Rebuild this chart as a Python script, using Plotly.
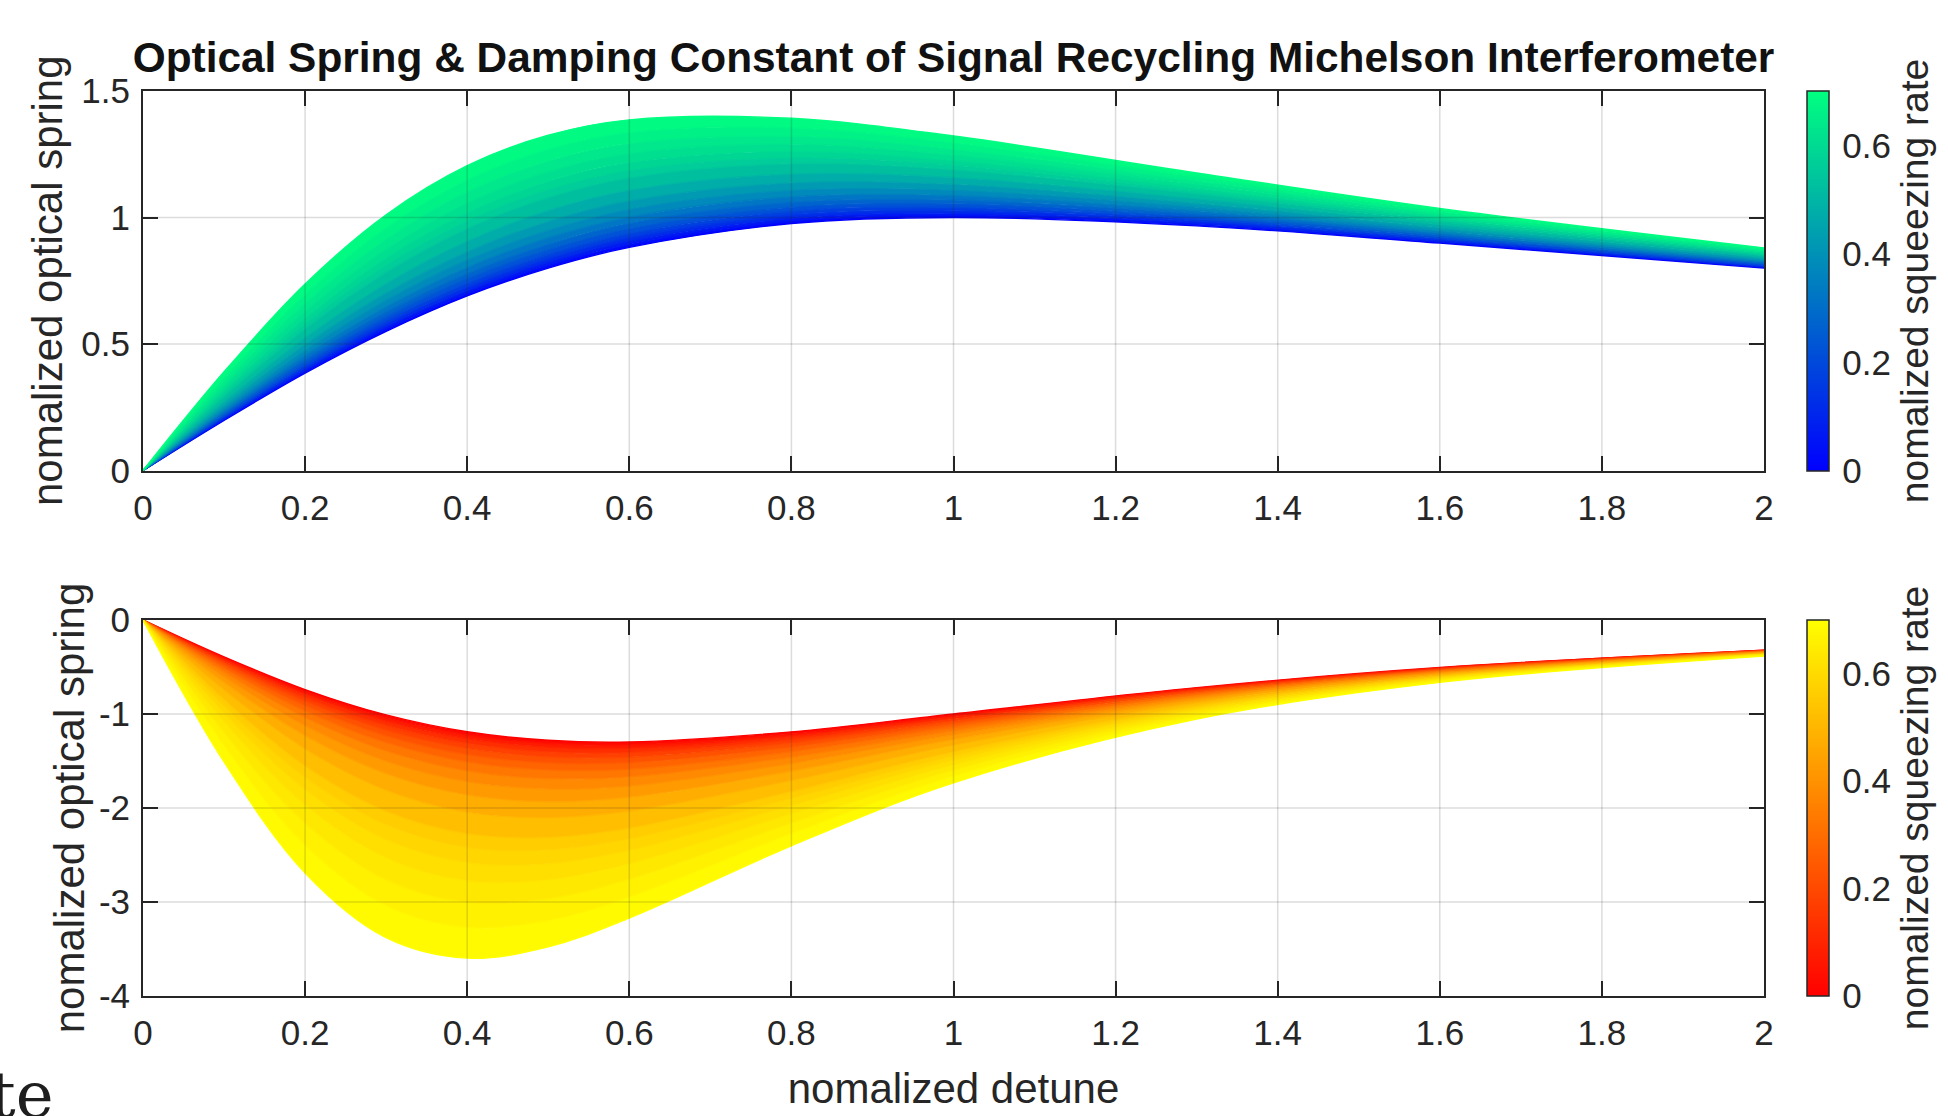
import plotly.graph_objects as go

# ---------------- data ----------------
x_detune = [0.0, 0.1, 0.2, 0.3, 0.4, 0.5, 0.6, 0.8, 1.0, 1.3, 1.6, 2.0]
squeeze_rate = [0.0, 0.05, 0.1, 0.15, 0.2, 0.25, 0.3, 0.35, 0.4, 0.45, 0.5, 0.55,
                0.575, 0.6, 0.625, 0.65, 0.675, 0.7]

# optical spring, one row per squeezing rate (same order as squeeze_rate)
spring = [
    [0, 0.198, 0.385, 0.550, 0.690, 0.800, 0.882, 0.976, 1.000, 0.967, 0.899, 0.800],
    [0, 0.201, 0.391, 0.559, 0.700, 0.811, 0.893, 0.986, 1.008, 0.972, 0.903, 0.803],
    [0, 0.205, 0.398, 0.569, 0.711, 0.823, 0.906, 0.997, 1.017, 0.979, 0.907, 0.805],
    [0, 0.210, 0.407, 0.581, 0.725, 0.838, 0.921, 1.010, 1.029, 0.987, 0.913, 0.808],
    [0, 0.215, 0.416, 0.594, 0.740, 0.854, 0.937, 1.025, 1.040, 0.995, 0.918, 0.812],
    [0, 0.221, 0.428, 0.609, 0.758, 0.873, 0.956, 1.041, 1.054, 1.004, 0.925, 0.816],
    [0, 0.228, 0.441, 0.627, 0.778, 0.894, 0.977, 1.060, 1.069, 1.015, 0.932, 0.820],
    [0, 0.236, 0.457, 0.648, 0.803, 0.920, 1.002, 1.082, 1.087, 1.027, 0.940, 0.825],
    [0, 0.246, 0.475, 0.673, 0.832, 0.950, 1.032, 1.108, 1.108, 1.041, 0.949, 0.830],
    [0, 0.258, 0.498, 0.702, 0.865, 0.985, 1.066, 1.137, 1.131, 1.056, 0.959, 0.836],
    [0, 0.273, 0.525, 0.739, 0.907, 1.028, 1.108, 1.172, 1.158, 1.074, 0.971, 0.843],
    [0, 0.292, 0.560, 0.784, 0.957, 1.079, 1.157, 1.213, 1.189, 1.094, 0.984, 0.851],
    [0, 0.303, 0.580, 0.811, 0.987, 1.110, 1.186, 1.236, 1.207, 1.105, 0.991, 0.855],
    [0, 0.316, 0.603, 0.841, 1.020, 1.143, 1.217, 1.262, 1.226, 1.117, 0.999, 0.859],
    [0, 0.331, 0.630, 0.875, 1.058, 1.181, 1.253, 1.290, 1.247, 1.131, 1.007, 0.864],
    [0, 0.348, 0.661, 0.915, 1.101, 1.223, 1.292, 1.321, 1.270, 1.145, 1.016, 0.869],
    [0, 0.367, 0.696, 0.959, 1.149, 1.270, 1.336, 1.355, 1.295, 1.160, 1.026, 0.874],
    [0, 0.390, 0.737, 1.011, 1.205, 1.325, 1.386, 1.392, 1.322, 1.176, 1.036, 0.880],
]

# damping constant, one row per squeezing rate
damping = [
    [0, -0.392, -0.740, -1.010, -1.189, -1.280, -1.298, -1.190, -1.000, -0.719, -0.505, -0.320],
    [0, -0.405, -0.764, -1.041, -1.223, -1.314, -1.329, -1.214, -1.016, -0.727, -0.509, -0.322],
    [0, -0.421, -0.792, -1.078, -1.264, -1.354, -1.366, -1.241, -1.035, -0.737, -0.514, -0.324],
    [0, -0.440, -0.827, -1.123, -1.313, -1.403, -1.411, -1.274, -1.057, -0.748, -0.520, -0.326],
    [0, -0.461, -0.866, -1.173, -1.368, -1.457, -1.460, -1.310, -1.081, -0.760, -0.526, -0.329],
    [0, -0.487, -0.913, -1.234, -1.434, -1.521, -1.519, -1.353, -1.109, -0.775, -0.533, -0.332],
    [0, -0.518, -0.969, -1.305, -1.511, -1.596, -1.587, -1.401, -1.141, -0.790, -0.541, -0.335],
    [0, -0.557, -1.039, -1.395, -1.607, -1.688, -1.669, -1.460, -1.179, -0.809, -0.550, -0.339],
    [0, -0.605, -1.126, -1.504, -1.722, -1.799, -1.768, -1.529, -1.222, -0.830, -0.561, -0.343],
    [0, -0.665, -1.232, -1.637, -1.863, -1.933, -1.886, -1.609, -1.273, -0.854, -0.572, -0.348],
    [0, -0.744, -1.373, -1.812, -2.046, -2.103, -2.034, -1.709, -1.334, -0.882, -0.586, -0.354],
    [0, -0.848, -1.556, -2.037, -2.277, -2.316, -2.218, -1.828, -1.406, -0.915, -0.601, -0.360],
    [0, -0.914, -1.671, -2.177, -2.420, -2.446, -2.328, -1.898, -1.448, -0.934, -0.610, -0.363],
    [0, -0.991, -1.806, -2.339, -2.583, -2.594, -2.452, -1.976, -1.493, -0.954, -0.619, -0.367],
    [0, -1.084, -1.968, -2.533, -2.776, -2.766, -2.595, -2.064, -1.544, -0.976, -0.629, -0.370],
    [0, -1.199, -2.164, -2.766, -3.005, -2.968, -2.761, -2.164, -1.600, -1.000, -0.640, -0.375],
    [0, -1.336, -2.399, -3.040, -3.272, -3.200, -2.949, -2.274, -1.662, -1.026, -0.652, -0.379],
    [0, -1.510, -2.691, -3.379, -3.597, -3.478, -3.171, -2.402, -1.732, -1.055, -0.664, -0.384],
]

x_ticks = [0, 0.2, 0.4, 0.6, 0.8, 1, 1.2, 1.4, 1.6, 1.8, 2]
x_ticktext = ["0", "0.2", "0.4", "0.6", "0.8", "1", "1.2", "1.4", "1.6", "1.8", "2"]
spring_ticks = [0, 0.5, 1, 1.5]
spring_ticktext = ["0", "0.5", "1", "1.5"]
damping_ticks = [-4, -3, -2, -1, 0]
damping_ticktext = ["-4", "-3", "-2", "-1", "0"]
cbar_ticks = [0, 0.2, 0.4, 0.6]
cbar_ticktext = ["0", "0.2", "0.4", "0.6"]
cbar_max = 0.7

title_text = "Optical Spring & Damping Constant of Signal Recycling Michelson Interferometer"
ylabel_text = "nomalized optical spring"
xlabel_text = "nomalized detune"
cbar_label = "nomalized squeezing rate"

# ---------------- styling ----------------
FONT = "Liberation Sans, Arial, Helvetica, sans-serif"
INK = "#262626"
GRID = "rgba(38,38,38,0.16)"
TICK_SIZE = 35
LABEL_SIZE = 42
CBAR_LABEL_SIZE = 39

W, H = 1948, 1116
ML, MR, MT, MB = 143, 183, 91, 120
plot_h = H - MT - MB


def winter(t):
    return "rgb(0,%d,%d)" % (round(255 * t), round(255 * (1 - 0.5 * t)))


def autumn(t):
    return "rgb(255,%d,0)" % round(255 * t)


WINTER = [[0, winter(0)], [1, winter(1)]]
AUTUMN = [[0, autumn(0)], [1, autumn(1)]]

fig = go.Figure()


def add_family(curves, cmap, xa, ya):
    for k, r in enumerate(squeeze_rate):
        t = r / cbar_max
        kw = {}
        if k > 0:
            tm = 0.5 * (squeeze_rate[k - 1] + r) / cbar_max
            kw = dict(fill="tonexty", fillcolor=cmap(tm))
        fig.add_trace(go.Scatter(
            x=x_detune, y=curves[k], mode="lines",
            line=dict(color=cmap(t), width=1.4, shape="spline", smoothing=1.0),
            xaxis=xa, yaxis=ya, showlegend=False, hoverinfo="skip", **kw))


add_family(spring, winter, "x", "y")
add_family(damping, autumn, "x2", "y2")

cb_x = (1807 - ML) / (W - ML - MR)


def cbar(y, yanchor, length):
    return dict(
        x=cb_x, xanchor="left", xpad=0, y=y, yanchor=yanchor, ypad=0,
        thickness=22, lenmode="pixels", len=length,
        outlinewidth=1.5, outlinecolor=INK,
        tickmode="array", tickvals=cbar_ticks, ticktext=cbar_ticktext,
        ticks="outside", ticklen=6, tickwidth=1.5, tickcolor="rgba(0,0,0,0)",
        tickfont=dict(family=FONT, size=TICK_SIZE, color=INK),
        title=dict(text=cbar_label, side="right",
                   font=dict(family=FONT, size=CBAR_LABEL_SIZE, color=INK)),
    )


fig.add_trace(go.Scatter(
    x=[x_detune[0]], y=[spring[0][0]], mode="markers", xaxis="x", yaxis="y",
    marker=dict(size=1, opacity=0, color=[squeeze_rate[0]], cmin=0, cmax=cbar_max,
                colorscale=WINTER, showscale=True, colorbar=cbar(1, "top", 380)),
    showlegend=False, hoverinfo="skip"))
fig.add_trace(go.Scatter(
    x=[x_detune[0]], y=[damping[0][0]], mode="markers", xaxis="x2", yaxis="y2",
    marker=dict(size=1, opacity=0, color=[squeeze_rate[0]], cmin=0, cmax=cbar_max,
                colorscale=AUTUMN, showscale=True, colorbar=cbar(0, "bottom", 376)),
    showlegend=False, hoverinfo="skip"))

top_lo = (996 - 470.5) / plot_h
bot_hi = (996 - 620) / plot_h

axis_common = dict(
    showgrid=False, zeroline=False, showline=True, mirror="ticks",
    linecolor=INK, linewidth=2, ticks="inside", ticklen=15, tickwidth=2,
    tickcolor=INK, tickfont=dict(family=FONT, size=TICK_SIZE, color=INK),
    layer="above traces",
)

fig.update_layout(
    width=W, height=H, autosize=False,
    margin=dict(l=ML, r=MR, t=MT, b=MB, pad=0),
    paper_bgcolor="white", plot_bgcolor="white",
    title=dict(text=title_text, x=0.5, xref="paper", xanchor="center",
               y=1 - 57 / H, yref="container", yanchor="middle",
               font=dict(family=FONT, size=42.4, color="#111111", weight=700)),
    xaxis=dict(axis_common, domain=[0, 1], range=[0, 2], anchor="y",
               tickmode="array", tickvals=x_ticks, ticktext=x_ticktext,
               ticklabelstandoff=5),
    yaxis=dict(axis_common, domain=[top_lo, 1], range=[0, 1.5], anchor="x",
               tickmode="array", tickvals=spring_ticks, ticktext=spring_ticktext,
               ticklabelstandoff=4,
               title=dict(text=ylabel_text, standoff=6,
                          font=dict(family=FONT, size=LABEL_SIZE, color=INK))),
    xaxis2=dict(axis_common, domain=[0, 1], range=[0, 2], anchor="y2",
                tickmode="array", tickvals=x_ticks, ticktext=x_ticktext,
                ticklabelstandoff=5,
                title=dict(text=xlabel_text, standoff=23,
                           font=dict(family=FONT, size=LABEL_SIZE, color=INK))),
    yaxis2=dict(axis_common, domain=[0, bot_hi], range=[-4, 0], anchor="x2",
                tickmode="array", tickvals=damping_ticks, ticktext=damping_ticktext,
                ticklabelstandoff=4,
                title=dict(text=ylabel_text, standoff=1,
                           font=dict(family=FONT, size=LABEL_SIZE, color=INK))),
)

# grid lines drawn semi-transparent above the filled bands (as in the original)
shapes = []
for xa, ya, yt in (("x", "y", spring_ticks), ("x2", "y2", damping_ticks)):
    for v in x_ticks[1:-1]:
        shapes.append(dict(type="line", xref=xa, yref=ya + " domain", x0=v, x1=v, y0=0, y1=1,
                           line=dict(color=GRID, width=1.5), layer="above"))
    for v in yt[1:-1]:
        shapes.append(dict(type="line", xref=xa + " domain", yref=ya, x0=0, x1=1, y0=v, y1=v,
                           line=dict(color=GRID, width=1.5), layer="above"))
fig.update_layout(shapes=shapes)

# fragment of text from the page the figure was cut from (bottom-left corner)
fig.add_annotation(text="te", xref="paper", yref="paper",
                   x=(56 - ML) / (W - ML - MR), y=(996 - 1095) / plot_h,
                   xanchor="right", yanchor="middle", showarrow=False,
                   font=dict(family="DejaVu Serif", size=64, color="#1e1e1e"))

fig.write_html("out.html")
